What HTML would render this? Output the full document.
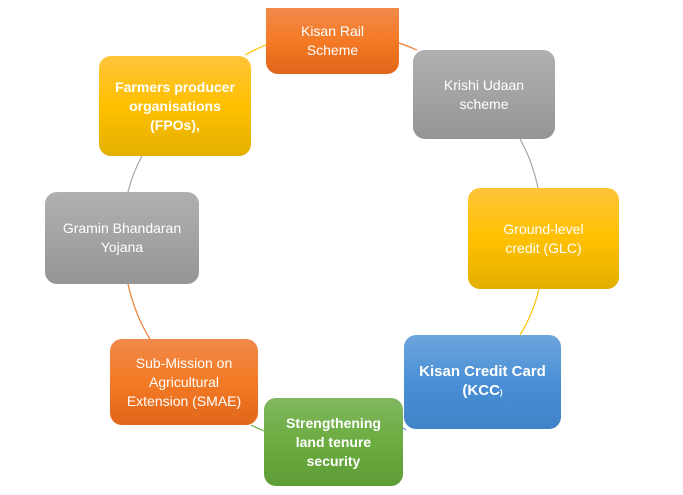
<!DOCTYPE html>
<html><head><meta charset="utf-8"><style>
body{margin:0;width:683px;height:495px;background:#fff;position:relative;overflow:hidden;font-family:"Liberation Sans",sans-serif;}
.n{position:absolute;border-radius:12px;display:flex;align-items:center;justify-content:center;text-align:center;color:#fff;font-size:14px;line-height:19px;box-sizing:border-box;padding:4px;}
.o{background:linear-gradient(#f08a4b,#f47a25 50%,#e0661a);}
.g{background:linear-gradient(#b0b0b0,#a3a3a3 50%,#959595);}
.y{background:linear-gradient(#ffc53a,#ffc000 50%,#e3b000);}
.b{background:linear-gradient(#6ea5dc,#4a90d6 50%,#3f82c8);}
.gr{background:linear-gradient(#80b860,#6cac40 50%,#5e9c36);}
.bo{font-weight:bold;}
svg{position:absolute;left:0;top:0;}
</style></head><body>
<svg width="683" height="495" fill="none" stroke-width="1.2">
<path d="M245 55 Q256 49 268 44" stroke="#ffc000"/>
<path d="M399 43 Q408 46 417 50" stroke="#ed7d31"/>
<path d="M520 139 Q532 160 538 188" stroke="#a5a5a5"/>
<path d="M539 289 Q533 314 520 335" stroke="#ffc000"/>
<path d="M403 428 L406 430" stroke="#5b9bd5"/>
<path d="M251 425 Q257 428 264 431" stroke="#70ad47"/>
<path d="M128 284 Q135 315 150 339" stroke="#ed7d31"/>
<path d="M128 192 Q133 172 142 156" stroke="#a5a5a5"/>
</svg>
<div class="n o" style="left:266px;top:8px;width:133px;height:66px;border-radius:0 0 12px 12px;">Kisan Rail<br>Scheme</div>
<div class="n y bo" style="left:99px;top:56px;width:152px;height:100px;">Farmers producer organisations (FPOs),</div>
<div class="n g" style="left:413px;top:50px;width:142px;height:89px;">Krishi Udaan<br>scheme</div>
<div class="n g" style="left:45px;top:192px;width:154px;height:92px;">Gramin Bhandaran<br>Yojana</div>
<div class="n y" style="left:468px;top:188px;width:151px;height:101px;">Ground-level<br>credit (GLC)</div>
<div class="n o" style="left:110px;top:339px;width:148px;height:86px;">Sub-Mission on<br>Agricultural<br>Extension (SMAE)</div>
<div class="n b bo" style="left:404px;top:335px;width:157px;height:94px;font-size:15px;"><div>Kisan Credit Card<br>(KCC<span style="font-size:8px">)</span></div></div>
<div class="n gr bo" style="left:264px;top:398px;width:139px;height:88px;">Strengthening<br>land tenure<br>security</div>
</body></html>
